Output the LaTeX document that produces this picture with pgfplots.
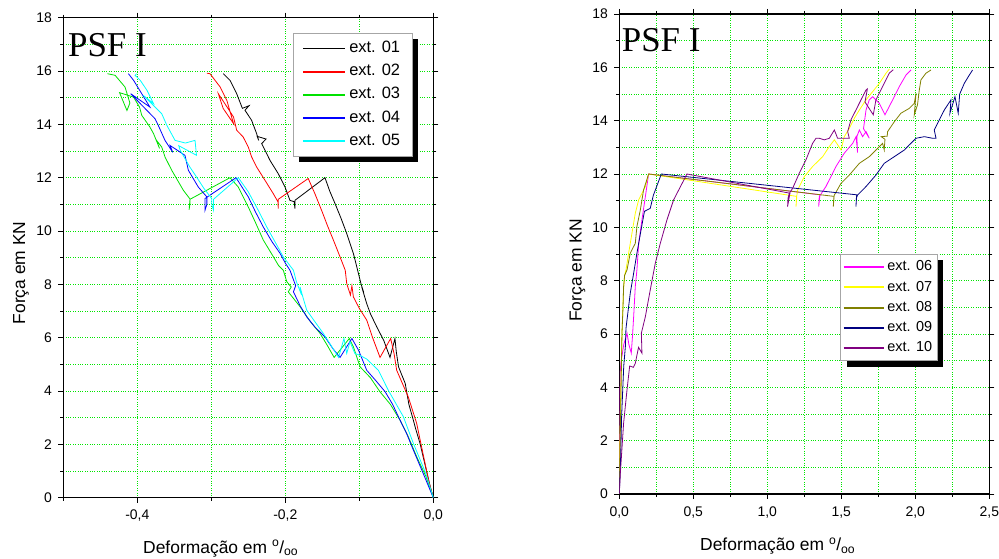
\documentclass[border=0pt]{standalone}
\usepackage{fontspec}
\setmainfont{Liberation Sans}
\newfontfamily\serifpsf{Liberation Serif}
\usepackage{pgfplots}
\pgfplotsset{compat=1.18}
\usetikzlibrary{shadows}
\makeatletter
\tikzset{nopre/.code={\let\tikz@preactions\pgfutil@empty\let\tikz@postactions\pgfutil@empty}}
\makeatother
\definecolor{gridgreen}{RGB}{0,230,0}
\definecolor{cgreen}{RGB}{0,225,0}
\definecolor{cblue}{RGB}{0,0,255}
\definecolor{ccyan}{RGB}{0,255,255}
\definecolor{cmag}{RGB}{255,0,255}
\definecolor{cyel}{RGB}{255,255,0}
\definecolor{colive}{RGB}{128,128,0}
\definecolor{cnavy}{RGB}{0,0,128}
\definecolor{cpurp}{RGB}{128,0,128}
\pgfplotsset{
 myaxis/.style={
  scale only axis, width=370bp, height=480bp,
  axis line style={line width=1.2bp},
  tick align=outside,
  major tick length=5bp, minor tick length=3bp,
  every tick/.style={black, line width=0.8bp},
  grid=both,
  major grid style={dotted, line width=0.8bp, color=gridgreen},
  minor grid style={dotted, line width=0.8bp, color=gridgreen},
  tick label style={font=\fontsize{14}{16}\selectfont},
  xticklabel shift=4bp, yticklabel shift=3bp,
  /pgf/number format/assume math mode=true,
  /pgf/number format/use comma,
  xticklabel style={/pgf/number format/.cd, fixed, fixed zerofill, precision=1},
  ymin=0, ymax=18, ytick={0,2,4,6,8,10,12,14,16,18}, minor ytick={1,3,5,7,9,11,13,15,17},
  legend cell align=left,
  legend image code/.code={\draw[nopre, #1, line width=1.8bp] (0bp,0bp) -- (42bp,0bp);},
  every axis plot/.append style={line width=0.8bp, mark=none},
 }
}
\begin{document}
\begin{tikzpicture}
\useasboundingbox (0bp,0bp) rectangle (999bp,559bp);
% ---------------- left panel ----------------
\begin{axis}[myaxis, at={(63.3bp,61.3bp)}, anchor=south west,
  xmin=-0.5, xmax=0, xtick={-0.4,-0.2,0}, minor xtick={-0.5,-0.3,-0.1},
  legend style={at={(rel axis cs:0.621,0.969)}, anchor=north west,
    draw=gray!70, line width=0.8bp, fill=white,
    font=\fontsize{16.5}{18}\selectfont,
    inner xsep=9bp, inner ysep=4bp,
    nodes={inner xsep=3bp, inner ysep=3.8bp, text height=12bp, text depth=3.5bp},
    column sep=0bp,
    drop shadow={shadow xshift=6bp, shadow yshift=-6bp, fill=black, opacity=1}},
]
\addplot[black] coordinates {(0,0)(-0.004,0.4)(-0.010,1.1)(-0.018,2.04)(-0.024,2.6)(-0.027,2.91)(-0.033,3.5)(-0.038,4.29)(-0.044,4.7)(-0.047,4.91)(-0.050,5.47)(-0.0518,5.97)(-0.0585,5.26)(-0.067,5.9)(-0.0765,6.41)(-0.085,6.9)(-0.090,7.28)(-0.0968,7.91)(-0.094,7.7)(-0.0975,8.0)(-0.100,8.28)(-0.108,9.16)(-0.117,9.91)(-0.125,10.5)(-0.1328,11.03)(-0.140,11.5)(-0.1464,12.0)(-0.187,11.15)(-0.187,10.84)(-0.188,11.1)(-0.1937,11.15)(-0.2004,11.65)(-0.2095,12.15)(-0.2207,12.65)(-0.2319,13.28)(-0.226,13.45)(-0.238,13.55)(-0.236,13.4)(-0.2387,13.65)(-0.2455,14.15)(-0.2545,14.53)(-0.249,14.7)(-0.258,14.6)(-0.2657,15.15)(-0.2747,15.65)(-0.2838,15.9)};
\addlegendentry{ext. 01}
\addplot[red] coordinates {(0,0)(-0.006,0.6)(-0.012,1.4)(-0.0225,2.79)(-0.0338,3.78)(-0.042,4.3)(-0.0495,4.78)(-0.053,5.4)(-0.0576,5.97)(-0.072,5.26)(-0.082,6.0)(-0.090,6.66)(-0.100,7.1)(-0.108,7.53)(-0.110,7.95)(-0.112,7.6)(-0.117,8.03)(-0.119,8.53)(-0.127,9.1)(-0.135,9.66)(-0.143,10.2)(-0.151,10.78)(-0.160,11.4)(-0.169,11.97)(-0.2095,11.19)(-0.2095,10.84)(-0.210,11.1)(-0.2162,11.4)(-0.2274,11.9)(-0.2387,12.4)(-0.2455,12.78)(-0.25,13.15)(-0.257,13.53)(-0.2657,13.78)(-0.270,14.28)(-0.2905,15.15)(-0.284,14.6)(-0.270,14.03)(-0.279,14.9)(-0.288,15.4)(-0.3018,15.9)(-0.306,15.92)};
\addlegendentry{ext. 02}
\addplot[cgreen] coordinates {(0,0)(-0.010,0.8)(-0.0225,1.54)(-0.034,2.3)(-0.045,2.91)(-0.058,3.5)(-0.072,3.97)(-0.085,4.5)(-0.099,4.91)(-0.108,5.66)(-0.1135,5.97)(-0.134,5.26)(-0.143,5.7)(-0.153,6.16)(-0.166,6.6)(-0.180,7.16)(-0.196,7.72)(-0.192,7.9)(-0.198,8.1)(-0.2027,8.53)(-0.209,8.7)(-0.216,9.03)(-0.2297,9.66)(-0.240,10.3)(-0.25,10.9)(-0.2635,11.65)(-0.2747,12.0)(-0.3288,11.19)(-0.330,10.8)(-0.3289,11.0)(-0.3288,11.2)(-0.3378,11.53)(-0.3535,12.28)(-0.3626,12.78)(-0.367,13.15)(-0.374,13.4)(-0.370,13.1)(-0.378,13.65)(-0.383,13.9)(-0.394,14.34)(-0.397,14.65)(-0.405,15.02)(-0.424,15.19)(-0.414,14.52)(-0.410,14.8)(-0.4166,15.4)(-0.430,15.84)(-0.4405,15.9)};
\addlegendentry{ext. 03}
\addplot[cblue] coordinates {(0,0)(-0.012,0.8)(-0.027,1.79)(-0.036,2.4)(-0.045,2.91)(-0.055,3.5)(-0.065,3.97)(-0.078,4.4)(-0.090,4.78)(-0.101,5.53)(-0.110,5.97)(-0.126,5.26)(-0.136,5.6)(-0.1464,6.03)(-0.160,6.4)(-0.171,6.78)(-0.180,7.2)(-0.189,7.72)(-0.186,7.95)(-0.1937,8.53)(-0.200,8.8)(-0.207,9.16)(-0.218,9.6)(-0.2297,10.15)(-0.240,10.7)(-0.25,11.28)(-0.2666,12.0)(-0.3085,11.22)(-0.3085,10.78)(-0.306,11.0)(-0.306,11.28)(-0.3176,11.65)(-0.331,12.28)(-0.3356,12.84)(-0.3558,13.21)(-0.352,12.95)(-0.3626,13.4)(-0.3716,13.96)(-0.376,14.21)(-0.409,15.15)(-0.383,14.65)(-0.394,15.15)(-0.405,15.65)(-0.412,15.9)};
\addlegendentry{ext. 04}
\addplot[ccyan] coordinates {(0,0)(-0.010,0.9)(-0.027,2.04)(-0.0405,3.04)(-0.0608,4.03)(-0.0743,4.78)(-0.090,5.2)(-0.100,5.35)(-0.106,5.41)(-0.1126,5.85)(-0.117,5.41)(-0.1207,5.97)(-0.128,5.26)(-0.138,5.7)(-0.1486,6.16)(-0.160,6.6)(-0.171,7.03)(-0.176,7.5)(-0.180,7.9)(-0.178,7.6)(-0.185,8.1)(-0.189,8.53)(-0.195,8.75)(-0.2027,9.03)(-0.214,9.6)(-0.225,10.15)(-0.237,10.8)(-0.25,11.47)(-0.2635,12.0)(-0.297,11.19)(-0.297,10.78)(-0.2995,11.0)(-0.2995,11.22)(-0.310,11.6)(-0.320,12.03)(-0.329,12.4)(-0.342,13.03)(-0.344,13.2)(-0.320,12.84)(-0.322,13.4)(-0.335,13.3)(-0.349,13.4)(-0.360,13.96)(-0.367,14.4)(-0.392,15.09)(-0.378,14.78)(-0.387,15.28)(-0.396,15.65)(-0.403,15.84)(-0.401,15.9)};
\addlegendentry{ext. 05}
\end{axis}
% ---------------- right panel ----------------
\begin{axis}[myaxis, at={(619.3bp,65bp)}, anchor=south west,
  xmin=0, xmax=2.5, xtick={0,0.5,1,1.5,2,2.5}, minor xtick={0.25,0.75,1.25,1.75,2.25},
  legend style={at={(rel axis cs:0.597,0.500)}, anchor=north west,
    draw=gray!70, line width=0.8bp, fill=white,
    font=\fontsize{14.5}{16}\selectfont,
    inner xsep=2bp, inner ysep=2.5bp,
    nodes={inner xsep=3bp, inner ysep=3.4bp, text height=10.5bp, text depth=3bp},
    column sep=0bp,
    drop shadow={shadow xshift=6bp, shadow yshift=-6bp, fill=black, opacity=1}},
  legend image code/.code={\draw[nopre, #1, line width=1.8bp] (0bp,0bp) -- (40bp,0bp);},
]
\addplot[cmag] coordinates {(0,0)(0.003,1.5)(0.005,3)(0.006,4.5)(0.01,4.9)(0.03,5.6)(0.052,6.03)(0.065,5.6)(0.081,5.28)(0.09,6.0)(0.097,6.65)(0.108,7.78)(0.119,8.4)(0.131,9.4)(0.153,10.28)(0.176,11.15)(0.198,12.0)(1.356,11.22)(1.347,10.78)(1.351,11.15)(1.396,11.53)(1.464,12.28)(1.52,12.78)(1.577,13.15)(1.60,13.4)(1.61,12.8)(1.605,13.4)(1.622,13.65)(1.644,13.4)(1.667,13.59)(1.689,13.34)(1.650,13.7)(1.667,14.4)(1.689,14.78)(1.712,14.9)(1.757,14.65)(1.795,14.22)(1.847,14.78)(1.892,15.28)(1.937,15.71)(1.971,15.9)};
\addlegendentry{ext. 06}
\addplot[cyel] coordinates {(0,0)(0.004,2)(0.01,4)(0.018,6)(0.028,7.6)(0.036,8.2)(0.045,8.4)(0.063,9.03)(0.0856,9.78)(0.108,10.53)(0.131,11.03)(0.176,11.53)(0.198,12.0)(1.199,11.16)(1.194,10.78)(1.197,11.1)(1.205,11.4)(1.25,11.9)(1.306,12.28)(1.374,12.65)(1.419,13.03)(1.453,13.28)(1.475,13.1)(1.498,12.9)(1.52,13.4)(1.554,13.71)(1.588,14.09)(1.622,14.4)(1.667,14.78)(1.712,15.09)(1.757,15.4)(1.802,15.78)(1.824,15.93)};
\addlegendentry{ext. 07}
\addplot[colive] coordinates {(0,0)(0.006,2)(0.012,4)(0.018,6.03)(0.025,7.0)(0.029,7.78)(0.036,8.2)(0.052,8.4)(0.074,9.03)(0.108,9.4)(0.119,10.03)(0.142,10.65)(0.164,11.4)(0.198,12.0)(1.451,11.16)(1.446,10.78)(1.449,11.1)(1.453,11.21)(1.498,11.65)(1.554,11.96)(1.622,12.4)(1.689,12.65)(1.745,12.96)(1.779,13.15)(1.79,12.9)(1.795,13.3)(1.77,13.4)(1.81,13.42)(1.813,13.59)(1.858,13.96)(1.903,14.28)(1.959,14.46)(1.993,14.65)(2.005,15.03)(1.993,14.21)(2.015,14.6)(2.027,15.15)(2.038,15.53)(2.072,15.78)(2.106,15.9)};
\addlegendentry{ext. 08}
\addplot[cnavy] coordinates {(0,0)(0.01,1.5)(0.015,2.8)(0.02,3.5)(0.03,4.8)(0.041,5.53)(0.045,6.2)(0.052,6.53)(0.074,7.53)(0.097,8.28)(0.119,9.03)(0.153,10.09)(0.17,10.6)(0.209,10.71)(0.23,11.2)(0.284,12.0)(1.604,11.22)(1.599,10.78)(1.602,11.1)(1.61,11.21)(1.667,11.53)(1.734,11.96)(1.79,12.4)(1.858,12.65)(1.926,12.9)(1.959,13.09)(2.005,13.34)(2.061,13.4)(2.117,13.34)(2.14,13.34)(2.128,13.65)(2.162,14.03)(2.196,14.4)(2.241,14.78)(2.234,14.28)(2.268,14.9)(2.29,14.28)(2.30,15.0)(2.331,15.4)(2.365,15.71)(2.387,15.9)};
\addlegendentry{ext. 09}
\addplot[cpurp] coordinates {(0,0)(0.007,0.78)(0.029,2.65)(0.052,3.9)(0.07,4.8)(0.081,4.78)(0.095,4.75)(0.108,4.9)(0.13,5.5)(0.153,5.28)(0.149,6.03)(0.176,6.65)(0.209,7.65)(0.243,8.65)(0.277,9.4)(0.322,10.28)(0.367,11.03)(0.457,12.0)(1.153,11.28)(1.137,10.78)(1.14,11.1)(1.149,11.28)(1.171,11.46)(1.216,12.03)(1.261,12.53)(1.306,13.15)(1.329,13.34)(1.351,13.34)(1.385,13.28)(1.419,13.34)(1.453,13.65)(1.475,13.34)(1.554,13.34)(1.543,13.59)(1.565,14.03)(1.599,14.4)(1.633,14.78)(1.667,15.15)(1.676,15.19)(1.66,14.7)(1.716,14.22)(1.734,14.78)(1.779,15.28)(1.824,15.78)(1.851,15.91)};
\addlegendentry{ext. 10}
\end{axis}
% ---------------- texts ----------------
\node[anchor=base west, inner sep=0, font=\serifpsf\fontsize{35}{35}\selectfont] at (68bp,502.3bp) {PSF I};
\node[anchor=base west, inner sep=0, font=\serifpsf\fontsize{35}{35}\selectfont] at (621.7bp,507.3bp) {PSF I};
\node[anchor=base west, inner sep=0, font=\fontsize{17.5}{20}\selectfont] at (143bp,6bp) {Deformação em \textsuperscript{o}/\textsubscript{oo}};
\node[anchor=base west, inner sep=0, font=\fontsize{17.5}{20}\selectfont] at (700bp,8.3bp) {Deformação em \textsuperscript{o}/\textsubscript{oo}};
\node[rotate=90, anchor=base, inner sep=0, font=\fontsize{17.5}{20}\selectfont] at (25bp,286bp) {Força em KN};
\node[rotate=90, anchor=base, inner sep=0, font=\fontsize{17.5}{20}\selectfont] at (581.7bp,288.5bp) {Força em KN};
\end{tikzpicture}
\end{document}
